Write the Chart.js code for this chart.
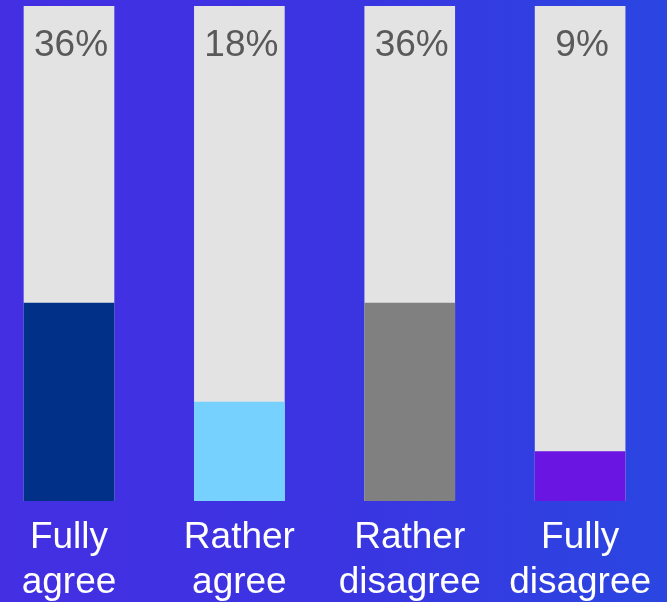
<!DOCTYPE html>
<html>
<head>
<meta charset="utf-8">
<script src="https://cdn.jsdelivr.net/npm/chart.js@4/dist/chart.umd.min.js"></script>
<style>
    html, body {
        margin: 0;
        padding: 0;
    }
    body {
        width: 667px;
        height: 602px;
        background: linear-gradient(to right, #442fe3 0%, #3b34e1 50%, #2a46e1 100%);
        overflow: hidden;
    }
    #wrap {
        position: relative;
        width: 667px;
        height: 602px;
    }
</style>
</head>
<body>
<div id="wrap"><canvas id="surveyChart"></canvas></div>
<script>
const answers = [['Fully', 'agree'], ['Rather', 'agree'], ['Rather', 'disagree'], ['Fully', 'disagree']];
const shares = [36, 18, 36, 9];
const trackMax = 90;
const barColors = ['#003087', '#76d1ff', '#808080', '#6b15e3'];

// writes the share above each bar, inside the grey track
const shareLabels = {
    id: 'shareLabels',
    afterDatasetsDraw(chart) {
        const ctx = chart.ctx;
        const meta = chart.getDatasetMeta(1);
        const top = chart.scales.y.getPixelForValue(trackMax);
        ctx.save();
        ctx.font = '37px "Liberation Sans", Arial, sans-serif';
        ctx.fillStyle = '#595959';
        ctx.textAlign = 'center';
        ctx.textBaseline = 'middle';
        meta.data.forEach((bar, i) => {
            ctx.fillText(shares[i] + '%', bar.x + 2, top + 40);
        });
        ctx.restore();
    }
};

new Chart(document.getElementById('surveyChart'), {
    type: 'bar',
    data: {
        datasets: [
            {
                data: shares.map((v, i) => ({ x: i, y: trackMax })),
                backgroundColor: '#e3e3e3',
                order: 2
            },
            {
                data: shares.map((v, i) => ({ x: i, y: v })),
                backgroundColor: barColors,
                order: 1
            }
        ]
    },
    options: {
        responsive: true,
        maintainAspectRatio: false,
        animation: false,
        grouped: false,
        barThickness: 90,
        layout: { padding: { top: 6, left: 0, right: 0, bottom: 0 } },
        plugins: {
            legend: { display: false },
            tooltip: { enabled: false }
        },
        scales: {
            x: {
                type: 'linear',
                offset: false,
                min: -0.405,
                max: 3.51,
                grid: { display: false },
                border: { display: false },
                afterFit: (scale) => { scale.height = 101; },
                ticks: {
                    stepSize: 1,
                    includeBounds: false,
                    autoSkip: false,
                    maxRotation: 0,
                    padding: 7,
                    color: '#ffffff',
                    font: { family: '"Liberation Sans", Arial, sans-serif', size: 37, lineHeight: 1.2 },
                    callback: (value) => answers[value] || ''
                }
            },
            y: {
                display: false,
                min: 0,
                max: trackMax
            }
        }
    },
    plugins: [shareLabels]
});
</script>
</body>
</html>
